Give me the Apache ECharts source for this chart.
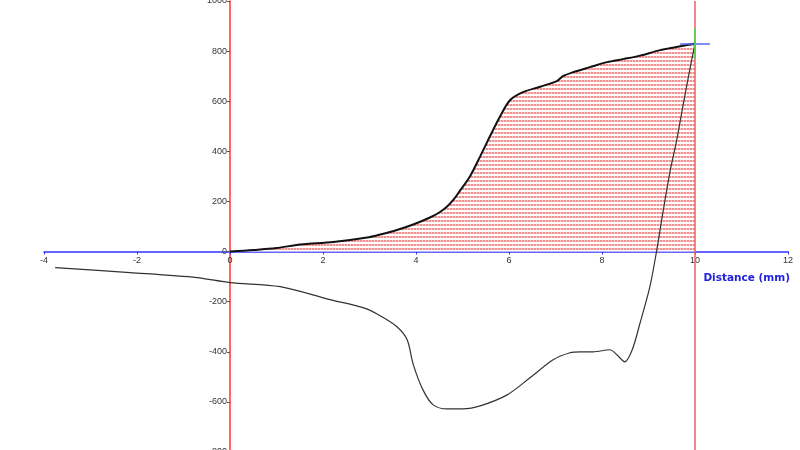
<!DOCTYPE html>
<html>
<head>
<meta charset="utf-8">
<script src="https://cdn.jsdelivr.net/npm/echarts@6/dist/echarts.min.js"></script>
<style>
html,body{margin:0;padding:0;background:#fff;}
#chart{width:800px;height:450px;}
</style>
</head>
<body>
<div id="chart"></div>
<script>
// Upper (loading) curve: [distance mm, value]
const upperX = [0, 0.5, 1.0, 1.51, 2.22, 2.95, 3.23, 3.59, 3.94, 4.30, 4.50, 4.67, 4.82, 4.95, 5.16, 5.38, 5.59, 5.81, 6.02, 6.30, 6.67, 7.03, 7.16, 7.38, 7.74, 8.11, 8.45, 8.82, 9.25, 9.60, 10.0];
const upperY = [0, 6, 14, 28, 38, 56, 68, 86, 108, 136, 156, 180, 210, 244, 300, 380, 460, 540, 604, 636, 658, 680, 700, 716, 736, 756, 768, 782, 804, 816, 830];
// Lower (return) curve
const lowerX = [-3.76, -2.15, -0.71, 0, 1.08, 2.15, 2.86, 3.23, 3.59, 3.81, 3.94, 4.15, 4.37, 4.67, 5.01, 5.38, 5.96, 6.45, 6.95, 7.31, 7.53, 7.81, 8.17, 8.32, 8.49, 8.65, 8.82, 9.03, 9.18, 9.31, 9.46, 9.61, 9.74, 9.89, 10.0];
const lowerY = [-64, -84, -104, -124, -140, -192, -224, -256, -300, -352, -450, -552, -612, -628, -628, -616, -572, -504, -432, -404, -400, -400, -392, -412, -440, -392, -284, -140, 8, 156, 316, 448, 580, 728, 830];
// Axis settings / tick labels
const xMin = -4, xMax = 12, xStep = 2;
const yMin = -800, yMax = 1000, yStep = 200;
const axisName = 'Distance (mm)';
const cursorX = 10, cursorY = 830;

const upper = upperX.map((x, i) => [x, upperY[i]]);
const lower = lowerX.map((x, i) => [x, lowerY[i]]);

// grid geometry
const gridLeft = 44, gridWidth = 744, gridTop = 1, gridHeight = 451;
// place axes through the origin
const yAxisOffset = -((0 - xMin) / (xMax - xMin)) * gridWidth;
const xAxisOffset = -((0 - yMin) / (yMax - yMin)) * gridHeight;

// hatched fill pattern: rows of small red dashes
const pc = document.createElement('canvas');
pc.width = 3; pc.height = 4;
const pctx = pc.getContext('2d');
pctx.fillStyle = '#ffffff';
pctx.fillRect(0, 0, 3, 4);
pctx.fillStyle = '#f29090';
pctx.fillRect(0, 0, 2, 2);
pctx.fillStyle = '#f9c8c8';
pctx.fillRect(2, 0, 1, 2);

const chart = echarts.init(document.getElementById('chart'), null, {renderer: 'canvas'});
const labelFont = {fontFamily: 'Liberation Sans, Arial, sans-serif', fontSize: 9, color: '#333'};
chart.setOption({
  animation: false,
  backgroundColor: '#fff',
  title: {
    text: axisName,
    right: 10, top: 273, padding: 0,
    textStyle: {fontFamily: 'Verdana, DejaVu Sans, sans-serif', fontSize: 10.5, fontWeight: 'bold', color: '#2222dd'}
  },
  grid: {left: gridLeft, width: gridWidth, top: gridTop, height: gridHeight, containLabel: false, outerBoundsMode: 'none'},
  xAxis: {
    type: 'value', min: xMin, max: xMax, interval: xStep,
    position: 'bottom', offset: xAxisOffset,
    axisLine: {onZero: false, lineStyle: {color: '#3333ff', width: 1.5}},
    axisTick: {show: true, length: 3, lineStyle: {color: '#3333ff'}},
    axisLabel: Object.assign({margin: 4, formatter: v => String(v)}, labelFont),
    splitLine: {show: false}
  },
  yAxis: {
    type: 'value', min: yMin, max: yMax, interval: yStep,
    position: 'left', offset: yAxisOffset,
    axisLine: {show: true, onZero: false, lineStyle: {color: '#ff3333', width: 1.5}},
    axisTick: {show: true, length: 3, lineStyle: {color: '#555'}},
    axisLabel: Object.assign({margin: 3, formatter: v => String(v)}, labelFont),
    splitLine: {show: false}
  },
  series: [
    {
      type: 'line', data: upper, smooth: 0.3, symbol: 'none',
      lineStyle: {color: '#111', width: 2},
      areaStyle: {color: {image: pc, repeat: 'repeat'}, opacity: 1},
      z: 3,
      markLine: {
        silent: true, symbol: 'none', label: {show: false},
        lineStyle: {color: '#f06060', width: 1.5, type: 'solid'},
        data: [{xAxis: cursorX}]
      }
    },
    {
      type: 'line', data: lower, smooth: 0.3, symbol: 'none',
      lineStyle: {color: '#333', width: 1.2},
      z: 4
    },
    {
      type: 'line', data: [], symbol: 'none', z: 5,
      markLine: {
        silent: true, symbol: 'none', label: {show: false},
        data: [
          [{coord: [cursorX - 0.32, cursorY], lineStyle: {color: '#5566ee', width: 1.5, type: 'solid'}},
           {coord: [cursorX + 0.32, cursorY]}],
          [{coord: [cursorX, cursorY + 60], lineStyle: {color: '#44dd44', width: 1.5, type: 'solid'}},
           {coord: [cursorX, cursorY - 60]}]
        ]
      }
    }
  ]
});
</script>
</body>
</html>
